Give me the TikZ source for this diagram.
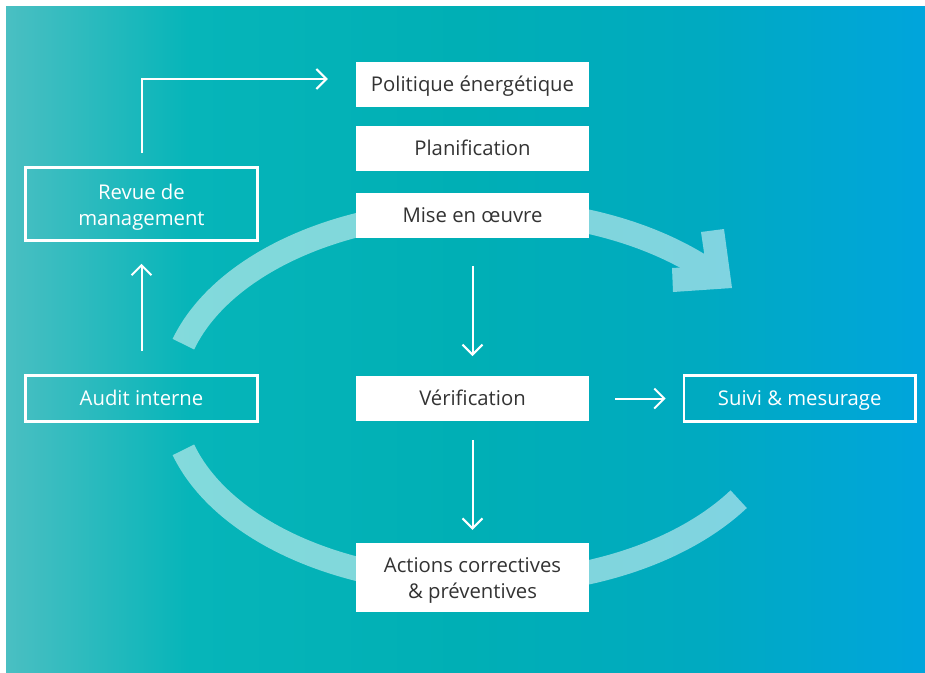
\documentclass[tikz,border=0pt]{standalone}
\usepackage{fontspec}
\setmainfont{Open Sans}
\usetikzlibrary{arrows.meta}
\definecolor{ga}{HTML}{4ABFC2}
\definecolor{gb}{HTML}{06B5B9}
\definecolor{gc}{HTML}{00AFB5}
\definecolor{gd}{HTML}{00AAC0}
\definecolor{ge}{HTML}{00A5DC}
\definecolor{txt}{HTML}{333333}
\pgfdeclarehorizontalshading{bgshade}{100bp}{color(0bp)=(ga); color(25bp)=(ga); color(35bp)=(gb); color(50bp)=(gc); color(62.5bp)=(gd); color(75bp)=(ge); color(100bp)=(ge)}
\tikzset{
  boxfont/.style={font=\fontsize{20.3}{26}\selectfont, text height=14.5pt, text depth=0pt, align=center},
  twoline/.style={text height=42pt, text depth=0pt},
  whitebox/.style={fill=white, draw=none, minimum width=233pt, minimum height=44.5pt, inner sep=0pt, text=txt, boxfont},
  linebox/.style={draw=white, line width=2.6pt, minimum width=232pt, minimum height=46pt, inner sep=0pt, text=white, boxfont},
  arr/.style={draw=white, line width=2pt, -{Straight Barb[length=10pt, width=20pt, line width=2pt]}},
  band/.style={draw=white, line width=24pt, line cap=butt}
}
\begin{document}
\begin{tikzpicture}[x=1pt, y=-1pt]
\useasboundingbox (0,0) rectangle (925,672);
\fill[white] (0,0) rectangle (925,672);
\fill[shading=bgshade] (6,6) rectangle (925,672);
% light cycle bands
\begin{scope}[transparency group, opacity=0.5]
  \draw[band] plot[domain=163.5:41.8, samples=80, smooth, variable=\t]
     ({472+301*(1+0.05*max(0,cos(\t)))*cos(\t)}, {397-186*(1+0.05*max(0,cos(\t)))*sin(\t)});
  \fill[white] (701,232) -- (724,229) -- (732,288) -- (673,292) -- (672,268) -- (706,266) -- cycle;
  \draw[band] plot[domain=196.5:328.2, samples=80, smooth, variable=\t]
     ({472+301*(1+0.05*max(0,cos(\t)))*cos(\t)}, {397-186*(1+0.05*max(0,cos(\t)))*sin(\t)});
\end{scope}
% boxes
\node[whitebox] (pol) at (472.5,84.5) {Politique énergétique};
\node[whitebox] (plan) at (472.5,148.5) {Planification};
\node[whitebox] (mise) at (472.5,215.5) {Mise en œuvre};
\node[whitebox] (verif) at (472.5,398.5) {Vérification};
\node[whitebox, twoline, minimum height=69pt] (act) at (472.5,577.5) {Actions correctives\\\& préventives};
\node[linebox, twoline, minimum height=73pt] (revue) at (141.5,204) {Revue de\\management};
\node[linebox] (audit) at (141.5,398.5) {Audit interne};
\node[linebox, minimum width=231.5pt] (suivi) at (799.7,398.5) {Suivi \& mesurage};
% connectors
\draw[arr] ([yshift=13pt]revue.north) |- ([xshift=-28pt, yshift=5.5pt]pol.west);
\draw[arr, shorten <=23pt, shorten >=22pt] (audit.north) -- (revue.south);
\draw[arr, shorten <=28pt, shorten >=20pt] (mise.south) -- (verif.north);
\draw[arr, shorten <=19pt, shorten >=13pt] (verif.south) -- (act.north);
\draw[arr, shorten <=26pt, shorten >=17pt] (verif.east) -- (suivi.west);
\end{tikzpicture}
\end{document}
